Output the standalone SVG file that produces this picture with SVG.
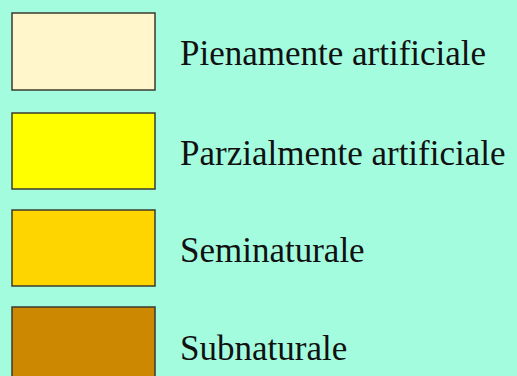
<svg xmlns="http://www.w3.org/2000/svg" width="517" height="376" viewBox="0 0 517 376">
<style>
.sw{stroke:#3a3a30;stroke-width:1.5}
.lb{font-family:"Liberation Serif","Times New Roman",serif;font-size:35px;fill:#111}
</style>
<rect width="517" height="376" fill="#a4fcdf"/>
<g id="item1"><rect class="sw" x="12" y="13" width="143" height="77" fill="#fff6cc"/><text class="lb" x="180" y="65">Pienamente artificiale</text></g>
<g id="item2"><rect class="sw" x="12" y="113" width="143" height="76" fill="#ffff00"/><text class="lb" x="180" y="165">Parzialmente artificiale</text></g>
<g id="item3"><rect class="sw" x="12" y="210" width="143" height="76" fill="#ffd500"/><text class="lb" x="180" y="262">Seminaturale</text></g>
<g id="item4"><rect class="sw" x="12" y="307" width="143" height="77" fill="#cc8800"/><text class="lb" x="180" y="360">Subnaturale</text></g>
</svg>
